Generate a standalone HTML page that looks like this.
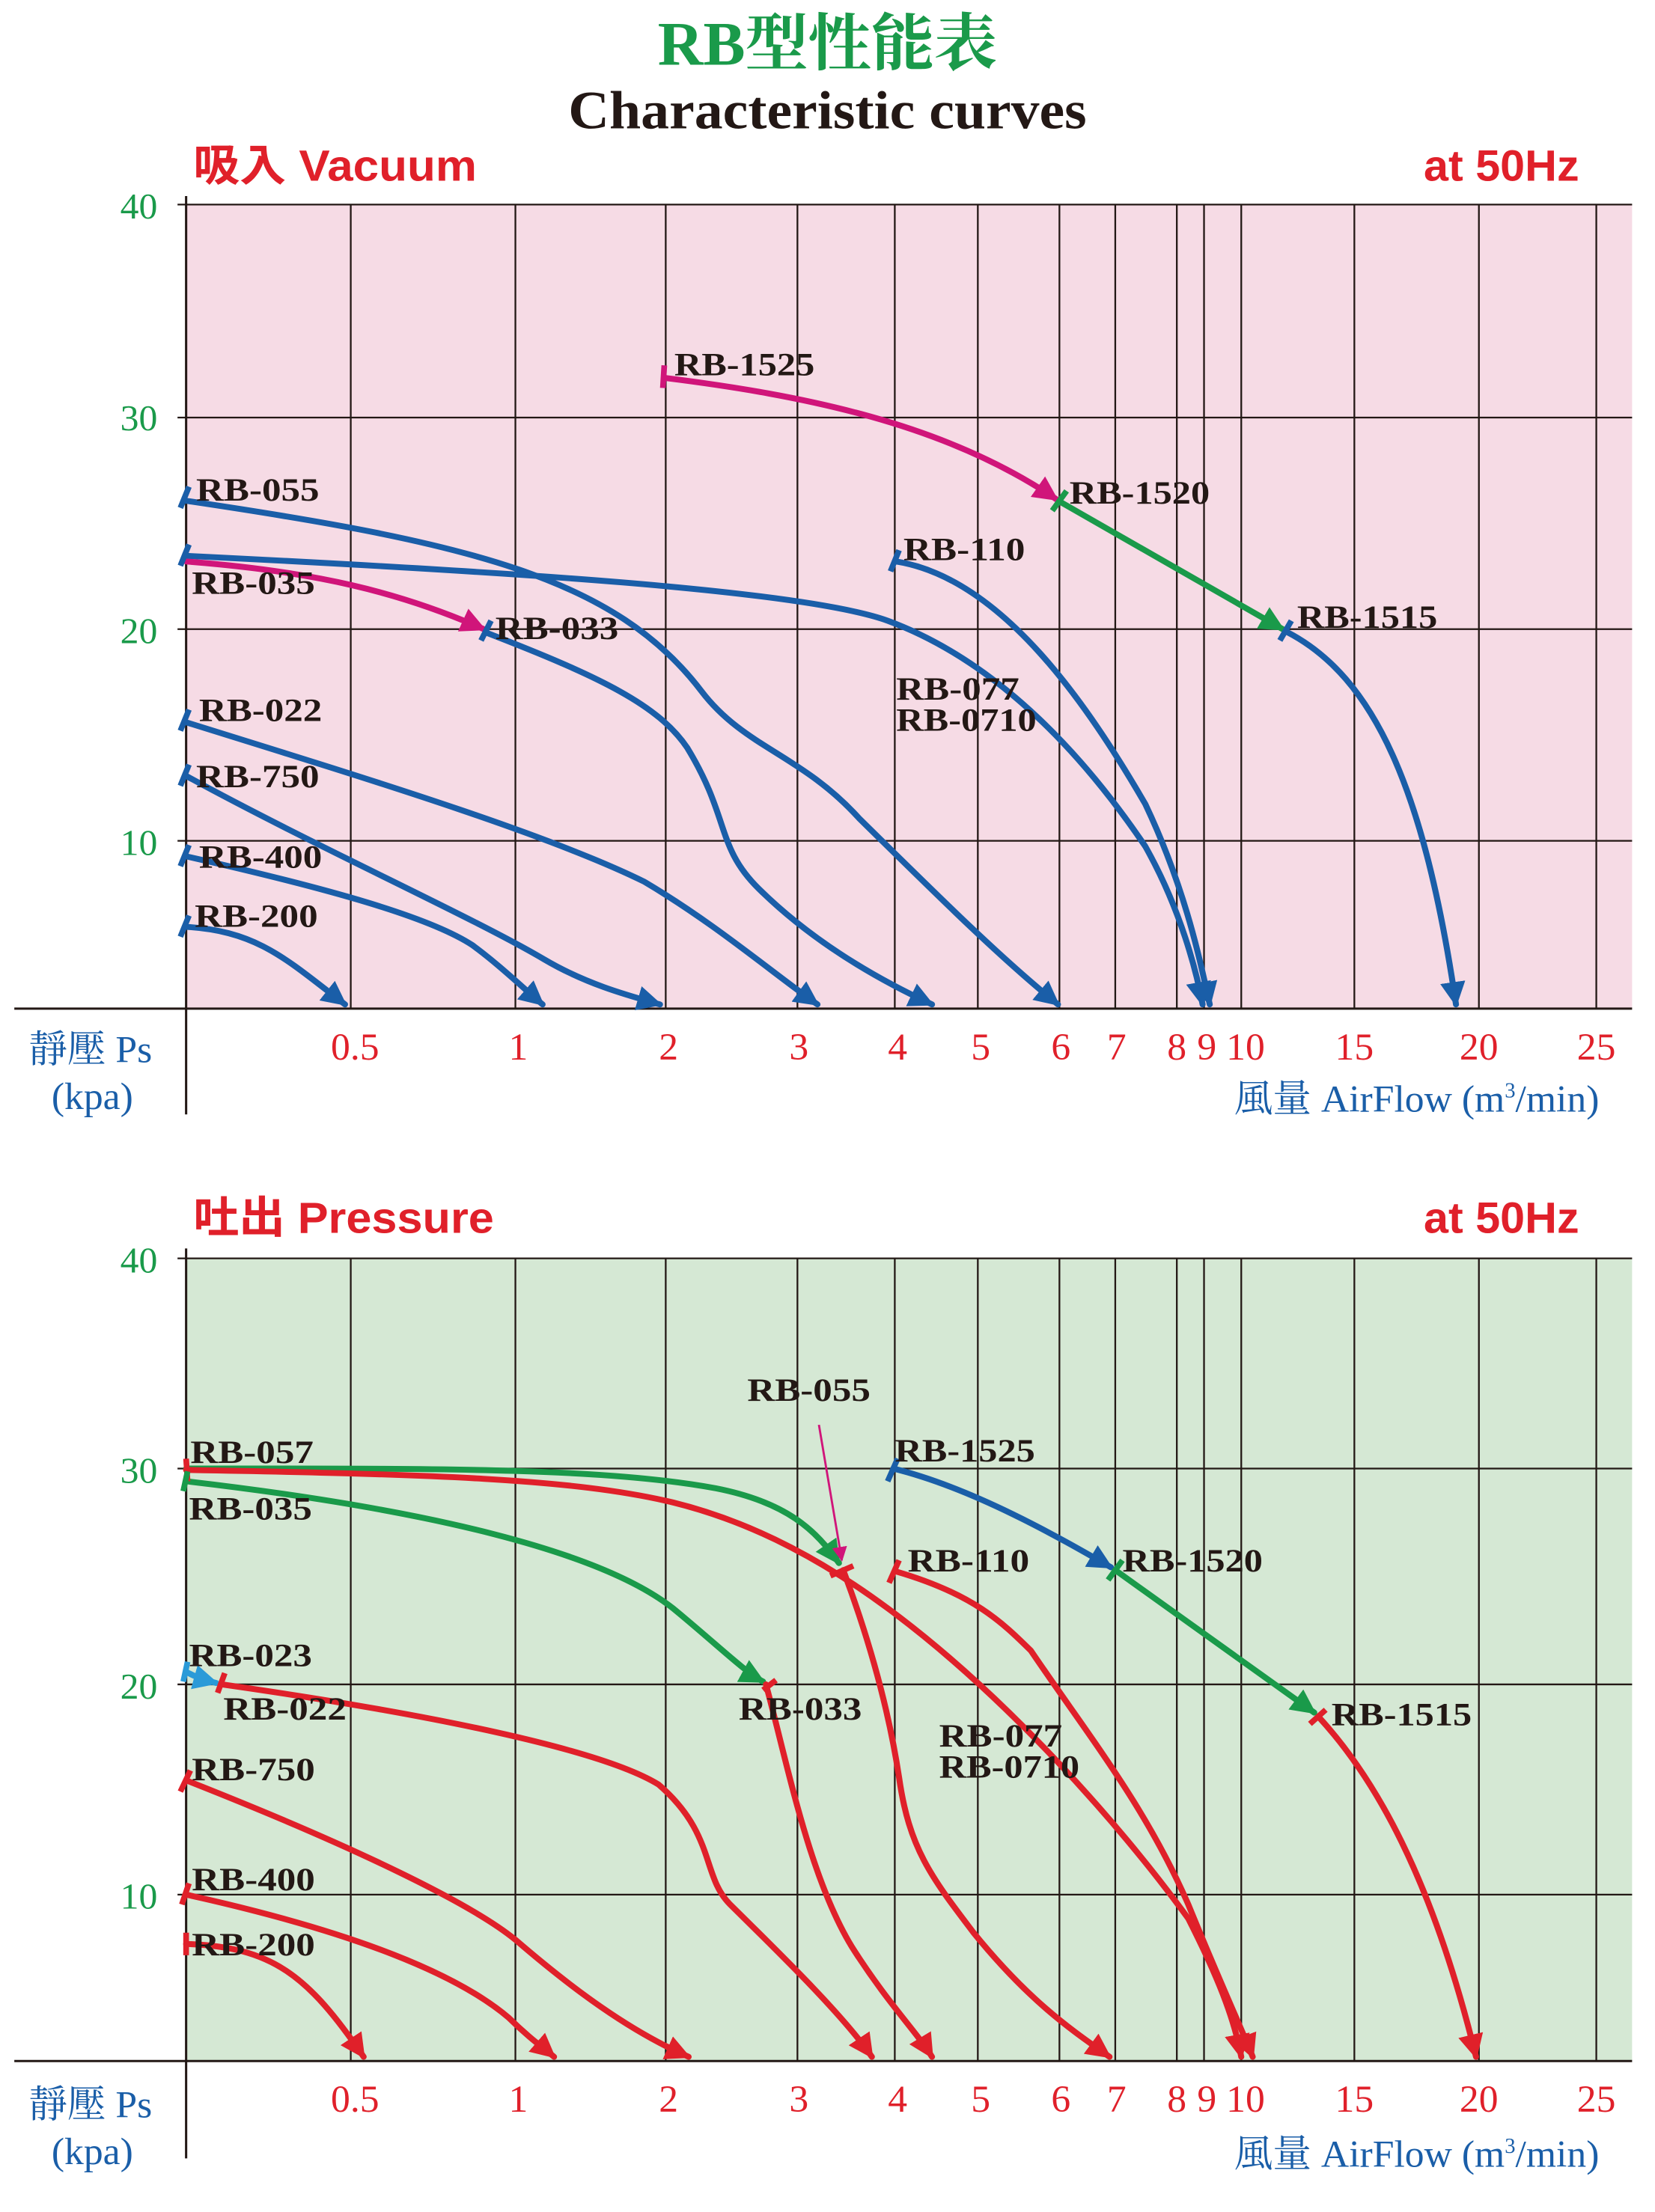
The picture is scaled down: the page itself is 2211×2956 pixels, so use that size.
<!DOCTYPE html>
<html><head><meta charset="utf-8"><style>
html,body{margin:0;padding:0;background:#fff;}
svg{display:block;}
.lb{font-family:"Liberation Serif",serif;font-weight:bold;font-size:23px;fill:#231815;}
.yt{font-family:"Liberation Serif",serif;font-size:26px;fill:#1a9a4a;}
.xt{font-family:"Liberation Serif",serif;font-size:27px;fill:#e0202a;}
.bl{font-family:"Liberation Serif","Noto Serif CJK SC",serif;font-size:27px;fill:#1a5ea8;}
.hd{font-family:"Liberation Sans","Noto Sans CJK TC",sans-serif;font-weight:bold;font-size:31px;fill:#e0202a;}
.g{stroke:#231815;stroke-width:1.2;fill:none;}
.c{fill:none;stroke-width:4.2;stroke-linecap:round;}
.B{stroke:#1a5ea8;} .M{stroke:#d0157a;} .G{stroke:#1a9a4a;} .R{stroke:#e0202a;} .L{stroke:#2a9ad8;}
.t{stroke-width:4;fill:none;}
</style></head><body>
<svg width="2211" height="2956" viewBox="0 0 1156 1568" preserveAspectRatio="none" xmlns="http://www.w3.org/2000/svg">
<defs>
<marker id="aB" viewBox="0 0 10 10" refX="9" refY="5" markerWidth="4.2" markerHeight="4.2" orient="auto"><path d="M0,0L10,5L0,10z" fill="#1a5ea8"/></marker>
<marker id="aM" viewBox="0 0 10 10" refX="9" refY="5" markerWidth="4.2" markerHeight="4.2" orient="auto"><path d="M0,0L10,5L0,10z" fill="#d0157a"/></marker>
<marker id="aG" viewBox="0 0 10 10" refX="9" refY="5" markerWidth="4.2" markerHeight="4.2" orient="auto"><path d="M0,0L10,5L0,10z" fill="#1a9a4a"/></marker>
<marker id="aR" viewBox="0 0 10 10" refX="9" refY="5" markerWidth="4.2" markerHeight="4.2" orient="auto"><path d="M0,0L10,5L0,10z" fill="#e0202a"/></marker>
<marker id="aL" viewBox="0 0 10 10" refX="9" refY="5" markerWidth="4.2" markerHeight="4.2" orient="auto"><path d="M0,0L10,5L0,10z" fill="#2a9ad8"/></marker>
<marker id="aP" viewBox="0 0 10 10" refX="9" refY="5" markerWidth="7" markerHeight="7" orient="auto"><path d="M0,0L10,5L0,10z" fill="#d0157a"/></marker>
</defs>

<text x="578" y="46" text-anchor="middle" font-family="Liberation Serif,'Noto Serif CJK SC',serif" font-weight="bold" font-size="44" fill="#1a9a4a">RB型性能表</text>
<text x="578" y="91" text-anchor="middle" font-family="Liberation Serif,serif" font-weight="bold" font-size="38" fill="#231815" textLength="362" lengthAdjust="spacingAndGlyphs">Characteristic curves</text>

<!-- TOP CHART -->
<text class="hd" x="135" y="128" textLength="198" lengthAdjust="spacingAndGlyphs">吸入 Vacuum</text>
<text class="hd" x="1103" y="128" text-anchor="end">at 50Hz</text>
<rect x="130" y="145" width="1010" height="570" fill="#f6dbe5"/>
<g class="g">
<line x1="124" y1="145" x2="1140" y2="145"/><line x1="124" y1="296" x2="1140" y2="296"/><line x1="124" y1="446" x2="1140" y2="446"/><line x1="124" y1="596" x2="1140" y2="596"/>
<line x1="10" y1="715" x2="1140" y2="715" stroke-width="1.6"/>
<line x1="130" y1="139" x2="130" y2="790" stroke-width="1.6"/>
<line x1="245" y1="145" x2="245" y2="715"/><line x1="360" y1="145" x2="360" y2="715"/><line x1="465" y1="145" x2="465" y2="715"/><line x1="557" y1="145" x2="557" y2="715"/><line x1="625" y1="145" x2="625" y2="715"/><line x1="683" y1="145" x2="683" y2="715"/><line x1="740" y1="145" x2="740" y2="715"/><line x1="779" y1="145" x2="779" y2="715"/><line x1="822" y1="145" x2="822" y2="715"/><line x1="841" y1="145" x2="841" y2="715"/><line x1="867" y1="145" x2="867" y2="715"/><line x1="946" y1="145" x2="946" y2="715"/><line x1="1033" y1="145" x2="1033" y2="715"/><line x1="1115" y1="145" x2="1115" y2="715"/>
</g>
<g class="yt" text-anchor="end"><text x="110" y="155">40</text><text x="110" y="305">30</text><text x="110" y="456">20</text><text x="110" y="606">10</text></g>
<g class="xt" text-anchor="middle"><text x="248" y="751">0.5</text><text x="362" y="751">1</text><text x="467" y="751">2</text><text x="558" y="751">3</text><text x="627" y="751">4</text><text x="685" y="751">5</text><text x="741" y="751">6</text><text x="780" y="751">7</text><text x="822" y="751">8</text><text x="843" y="751">9</text><text x="870" y="751">10</text><text x="946" y="751">15</text><text x="1033" y="751">20</text><text x="1115" y="751">25</text></g>
<text class="bl" x="20" y="753">靜壓 Ps</text><text class="bl" x="36" y="786">(kpa)</text>
<text class="bl" x="1117" y="788" text-anchor="end">風量 AirFlow (m<tspan font-size="15" dy="-10">3</tspan><tspan dy="10">/min)</tspan></text>

<g>
<path class="c M" marker-end="url(#aM)" d="M465,268 C560,280 660,300 738,354"/>
<path class="c G" marker-end="url(#aG)" d="M741,356 L896,446"/>
<path class="c B" marker-end="url(#aB)" d="M899,448 C960,480 995,560 1017,712"/>
<path class="c B" marker-end="url(#aB)" d="M130,355 C330,385 430,410 490,490 C520,530 560,535 600,580 C660,640 700,680 739,712"/>
<path class="c B" marker-end="url(#aB)" d="M130,394 C350,405 560,418 620,440 C700,470 760,540 800,600 C825,645 836,690 840,712"/>
<path class="c B" marker-end="url(#aB)" d="M626,398 C700,410 760,500 800,570 C828,630 838,680 845,712"/>
<path class="c M" marker-end="url(#aM)" d="M130,398 C220,405 280,420 338,446"/>
<path class="c B" marker-end="url(#aB)" d="M341,449 C420,480 460,500 480,530 C510,580 500,600 530,630 C560,660 600,688 651,712"/>
<path class="c B" marker-end="url(#aB)" d="M130,512 C250,550 380,590 450,625 C500,655 540,690 571,712"/>
<path class="c B" marker-end="url(#aB)" d="M130,550 C220,600 330,650 380,680 C410,698 440,706 461,712"/>
<path class="c B" marker-end="url(#aB)" d="M130,607 C230,630 300,650 330,670 C350,685 365,700 379,712"/>
<path class="c B" marker-end="url(#aB)" d="M130,657 C180,660 200,680 241,712"/>
<g class="t" stroke="#1a5ea8"><path d="M126,360 L132,345"/><path d="M126,401 L132,386"/><path d="M126,518 L132,503"/><path d="M126,557 L132,542"/><path d="M126,614 L132,599"/><path d="M126,664 L132,649"/><path d="M622,405 L628,390"/><path d="M336,454 L343,440"/><path d="M894,454 L902,440"/></g>
<path class="t" stroke="#d0157a" d="M463,275 L464,259"/>
<path class="t" stroke="#1a9a4a" d="M735,362 L745,348"/>
</g>
<g class="lb">
<text x="471" y="266" textLength="98" lengthAdjust="spacingAndGlyphs">RB-1525</text>
<text x="137" y="355" textLength="86" lengthAdjust="spacingAndGlyphs">RB-055</text>
<text x="747" y="357" textLength="98" lengthAdjust="spacingAndGlyphs">RB-1520</text>
<text x="631" y="397" textLength="85" lengthAdjust="spacingAndGlyphs">RB-110</text>
<text x="134" y="421" textLength="86" lengthAdjust="spacingAndGlyphs">RB-035</text>
<text x="346" y="453" textLength="86" lengthAdjust="spacingAndGlyphs">RB-033</text>
<text x="906" y="445" textLength="98" lengthAdjust="spacingAndGlyphs">RB-1515</text>
<text x="626" y="496" textLength="86" lengthAdjust="spacingAndGlyphs">RB-077</text>
<text x="626" y="518" textLength="98" lengthAdjust="spacingAndGlyphs">RB-0710</text>
<text x="139" y="511" textLength="86" lengthAdjust="spacingAndGlyphs">RB-022</text>
<text x="137" y="558" textLength="86" lengthAdjust="spacingAndGlyphs">RB-750</text>
<text x="139" y="615" textLength="86" lengthAdjust="spacingAndGlyphs">RB-400</text>
<text x="136" y="657" textLength="86" lengthAdjust="spacingAndGlyphs">RB-200</text>
</g>

<!-- BOTTOM CHART -->
<text class="hd" x="135" y="874" textLength="210" lengthAdjust="spacingAndGlyphs">吐出 Pressure</text>
<text class="hd" x="1103" y="874" text-anchor="end">at 50Hz</text>
<rect x="130" y="892" width="1010" height="569" fill="#d5e8d4"/>
<g class="g">
<line x1="124" y1="892" x2="1140" y2="892"/><line x1="124" y1="1041" x2="1140" y2="1041"/><line x1="124" y1="1194" x2="1140" y2="1194"/><line x1="124" y1="1343" x2="1140" y2="1343"/>
<line x1="10" y1="1461" x2="1140" y2="1461" stroke-width="1.6"/>
<line x1="130" y1="885" x2="130" y2="1530" stroke-width="1.6"/>
<line x1="245" y1="892" x2="245" y2="1461"/><line x1="360" y1="892" x2="360" y2="1461"/><line x1="465" y1="892" x2="465" y2="1461"/><line x1="557" y1="892" x2="557" y2="1461"/><line x1="625" y1="892" x2="625" y2="1461"/><line x1="683" y1="892" x2="683" y2="1461"/><line x1="740" y1="892" x2="740" y2="1461"/><line x1="779" y1="892" x2="779" y2="1461"/><line x1="822" y1="892" x2="822" y2="1461"/><line x1="841" y1="892" x2="841" y2="1461"/><line x1="867" y1="892" x2="867" y2="1461"/><line x1="946" y1="892" x2="946" y2="1461"/><line x1="1033" y1="892" x2="1033" y2="1461"/><line x1="1115" y1="892" x2="1115" y2="1461"/>
</g>
<g class="yt" text-anchor="end"><text x="110" y="902">40</text><text x="110" y="1051">30</text><text x="110" y="1204">20</text><text x="110" y="1353">10</text></g>
<g class="xt" text-anchor="middle"><text x="248" y="1497">0.5</text><text x="362" y="1497">1</text><text x="467" y="1497">2</text><text x="558" y="1497">3</text><text x="627" y="1497">4</text><text x="685" y="1497">5</text><text x="741" y="1497">6</text><text x="780" y="1497">7</text><text x="822" y="1497">8</text><text x="843" y="1497">9</text><text x="870" y="1497">10</text><text x="946" y="1497">15</text><text x="1033" y="1497">20</text><text x="1115" y="1497">25</text></g>
<text class="bl" x="20" y="1501">靜壓 Ps</text><text class="bl" x="36" y="1534">(kpa)</text>
<text class="bl" x="1117" y="1536" text-anchor="end">風量 AirFlow (m<tspan font-size="15" dy="-10">3</tspan><tspan dy="10">/min)</tspan></text>

<g>
<path class="c G" marker-end="url(#aG)" d="M130,1041 C300,1041 420,1040 500,1055 C550,1065 570,1085 586,1108"/>
<path class="c R" stroke-width="5" marker-end="url(#aR)" d="M130,1042 C300,1045 400,1048 470,1065 C530,1080 580,1110 620,1140 C700,1200 780,1290 830,1360 C850,1400 862,1430 867,1458"/>
<path class="c R" marker-end="url(#aR)" d="M589,1113 C610,1170 622,1220 628,1260 C635,1310 650,1330 680,1370 C720,1420 750,1440 775,1458"/>
<path class="c G" marker-end="url(#aG)" d="M130,1050 C300,1070 420,1100 470,1140 C500,1165 520,1185 533,1192"/>
<path class="c R" marker-end="url(#aR)" d="M535,1194 C550,1250 565,1330 595,1380 C620,1420 640,1440 651,1458"/>
<path class="c B" marker-end="url(#aB)" d="M624,1041 C680,1055 740,1090 776,1111"/>
<path class="c G" marker-end="url(#aG)" d="M779,1113 L918,1214"/>
<path class="c R" marker-end="url(#aR)" d="M921,1217 C960,1260 1000,1330 1031,1458"/>
<path class="c R" marker-end="url(#aR)" d="M626,1114 C680,1130 700,1150 720,1170 C760,1230 800,1280 830,1350 C850,1400 868,1440 875,1458"/>
<path class="c L" marker-end="url(#aL)" d="M130,1185 C135,1188 140,1190 151,1193"/>
<path class="c R" marker-end="url(#aR)" d="M155,1194 C300,1215 420,1240 460,1265 C500,1300 490,1330 510,1350 C550,1390 590,1430 609,1458"/>
<path class="c R" marker-end="url(#aR)" d="M130,1262 C250,1310 330,1350 360,1375 C400,1410 440,1440 481,1458"/>
<path class="c R" marker-end="url(#aR)" d="M130,1343 C250,1370 320,1400 355,1430 C370,1445 380,1452 387,1458"/>
<path class="c R" marker-end="url(#aR)" d="M130,1378 C190,1380 215,1400 254,1458"/>
<path fill="none" stroke="#d0157a" stroke-width="1.5" marker-end="url(#aP)" d="M572,1010 L588,1106"/>
<g class="t" stroke="#e0202a"><path d="M130,1034 L131,1050"/><path d="M580,1117 L596,1110"/><path d="M533,1198 L542,1191"/><path d="M621,1122 L628,1106"/><path d="M915,1222 L926,1212"/><path d="M152,1200 L157,1186"/><path d="M126,1270 L133,1255"/><path d="M127,1350 L132,1335"/><path d="M130,1370 L130,1386"/></g>
<path class="t" stroke="#1a9a4a" d="M128,1057 L131,1043"/>
<path class="t" stroke="#1a9a4a" d="M774,1120 L784,1106"/>
<path class="t" stroke="#1a5ea8" d="M620,1050 L627,1034"/>
<path class="t" stroke="#2a9ad8" d="M128,1192 L131,1178"/>
</g>
<g class="lb">
<text x="522" y="993" textLength="86" lengthAdjust="spacingAndGlyphs">RB-055</text>
<text x="133" y="1037" textLength="86" lengthAdjust="spacingAndGlyphs">RB-057</text>
<text x="625" y="1036" textLength="98" lengthAdjust="spacingAndGlyphs">RB-1525</text>
<text x="132" y="1077" textLength="86" lengthAdjust="spacingAndGlyphs">RB-035</text>
<text x="634" y="1114" textLength="85" lengthAdjust="spacingAndGlyphs">RB-110</text>
<text x="784" y="1114" textLength="98" lengthAdjust="spacingAndGlyphs">RB-1520</text>
<text x="132" y="1181" textLength="86" lengthAdjust="spacingAndGlyphs">RB-023</text>
<text x="156" y="1219" textLength="86" lengthAdjust="spacingAndGlyphs">RB-022</text>
<text x="516" y="1219" textLength="86" lengthAdjust="spacingAndGlyphs">RB-033</text>
<text x="930" y="1223" textLength="98" lengthAdjust="spacingAndGlyphs">RB-1515</text>
<text x="656" y="1238" textLength="86" lengthAdjust="spacingAndGlyphs">RB-077</text>
<text x="656" y="1260" textLength="98" lengthAdjust="spacingAndGlyphs">RB-0710</text>
<text x="134" y="1262" textLength="86" lengthAdjust="spacingAndGlyphs">RB-750</text>
<text x="134" y="1340" textLength="86" lengthAdjust="spacingAndGlyphs">RB-400</text>
<text x="134" y="1386" textLength="86" lengthAdjust="spacingAndGlyphs">RB-200</text>
</g>
</svg>
</body></html>
